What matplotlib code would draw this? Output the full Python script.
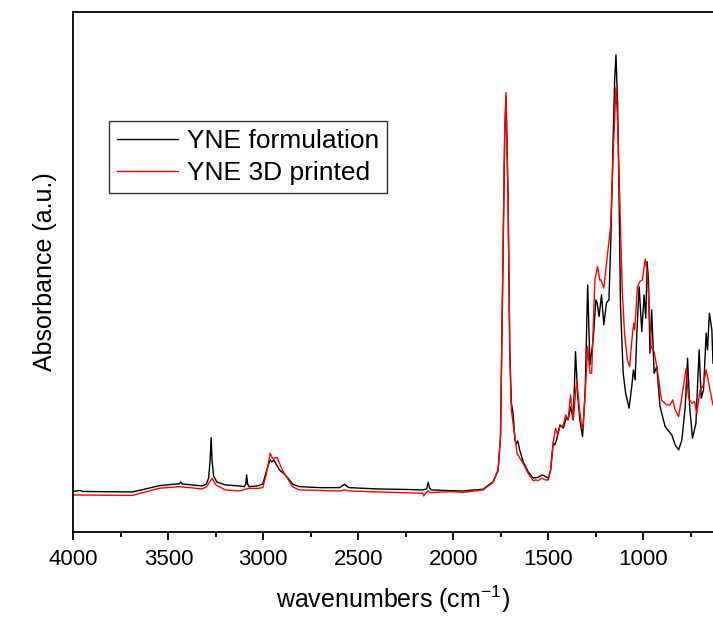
import numpy as np
import matplotlib
matplotlib.use("Agg")
import matplotlib.pyplot as plt
from matplotlib.ticker import MultipleLocator

plt.rcParams['font.family'] = ['Liberation Sans', 'DejaVu Sans']

# wavenumbers (cm-1) and absorbance (a.u.)
wn_formulation = [4000, 3966, 3950, 3690, 3620, 3548, 3442, 3435, 3428, 3322,
                  3300, 3288, 3280, 3275, 3270, 3262, 3245, 3200, 3126, 3100,
                  3092, 3088, 3083, 3075, 3030, 3003, 2985, 2964, 2955, 2945,
                  2915, 2889, 2871, 2845, 2810, 2700, 2600, 2585, 2572, 2555,
                  2547, 2400, 2250, 2161, 2140, 2132, 2125, 2115, 2018, 1950,
                  1843, 1790, 1764, 1751, 1741, 1729, 1722, 1711, 1702, 1694,
                  1685, 1675, 1668, 1660, 1650, 1632, 1606, 1579, 1553, 1530,
                  1510, 1500, 1487, 1474, 1465, 1456, 1438, 1420, 1405, 1395,
                  1382, 1368, 1356, 1345, 1333, 1319, 1305, 1292, 1280, 1263,
                  1249, 1242, 1232, 1219, 1207, 1193, 1180, 1170, 1158, 1150,
                  1143, 1134, 1126, 1119, 1105, 1092, 1074, 1060, 1051, 1042,
                  1033, 1021, 1007, 995, 986, 979, 972, 964, 955, 942,
                  928, 911, 884, 849, 831, 813, 796, 778, 766, 755,
                  740, 722, 705, 694, 682, 668, 661, 651, 638, 632]
abs_formulation = [0.405, 0.415, 0.405, 0.40, 0.43, 0.463, 0.483, 0.50, 0.48, 0.46,
                   0.48, 0.54, 0.72, 0.943, 0.72, 0.56, 0.50, 0.47, 0.46, 0.453,
                   0.48, 0.57, 0.48, 0.453, 0.46, 0.48, 0.60, 0.723, 0.70, 0.72,
                   0.62, 0.577, 0.54, 0.477, 0.453, 0.443, 0.443, 0.46, 0.477, 0.45,
                   0.443, 0.43, 0.425, 0.42, 0.43, 0.497, 0.44, 0.42, 0.413, 0.41,
                   0.427, 0.503, 0.62, 0.953, 2.29, 3.953, 4.35, 3.29, 1.79, 1.29,
                   1.187, 0.92, 0.88, 0.91, 0.82, 0.703, 0.603, 0.537, 0.547, 0.57,
                   0.55, 0.537, 0.62, 0.887, 0.87, 0.92, 1.07, 1.037, 1.14, 1.12,
                   1.253, 1.12, 1.803, 1.37, 1.12, 0.953, 1.42, 2.47, 1.67, 1.92,
                   2.32, 2.29, 2.153, 2.37, 2.07, 2.29, 2.32, 2.92, 3.92, 4.52,
                   4.77, 4.253, 3.253, 2.253, 1.587, 1.387, 1.237, 1.453, 1.62, 1.52,
                   1.987, 2.453, 2.003, 2.37, 2.137, 2.703, 2.52, 1.787, 2.22, 1.587,
                   1.653, 1.253, 1.053, 0.97, 0.87, 0.82, 0.92, 1.253, 1.737, 1.253,
                   0.937, 1.087, 1.82, 1.337, 1.42, 1.987, 1.82, 2.187, 2.02, 1.687]

wn_printed = [4000, 3690, 3620, 3548, 3442, 3322, 3300, 3270, 3250, 3200,
              3126, 3074, 3030, 3003, 2985, 2964, 2953, 2927, 2898, 2873,
              2847, 2810, 2600, 2572, 2550, 2400, 2161, 2155, 2145, 2132,
              2120, 2018, 1950, 1843, 1790, 1764, 1751, 1741, 1729, 1722,
              1711, 1702, 1694, 1685, 1664, 1650, 1632, 1606, 1579, 1565,
              1553, 1540, 1530, 1515, 1500, 1487, 1474, 1461, 1450, 1438,
              1420, 1408, 1395, 1382, 1368, 1350, 1333, 1322, 1315, 1303,
              1292, 1280, 1271, 1254, 1240, 1228, 1222, 1207, 1189, 1171,
              1158, 1143, 1134, 1122, 1110, 1098, 1083, 1071, 1059, 1050,
              1044, 1030, 1017, 1004, 989, 978, 958, 942, 928, 903,
              876, 858, 844, 831, 813, 796, 773, 761, 743, 729,
              717, 700, 686, 668, 648, 632]
abs_printed = [0.37, 0.365, 0.40, 0.437, 0.453, 0.43, 0.45, 0.537, 0.47, 0.42,
               0.41, 0.437, 0.435, 0.443, 0.57, 0.787, 0.737, 0.743, 0.61, 0.537,
               0.453, 0.42, 0.41, 0.42, 0.41, 0.40, 0.387, 0.36, 0.39, 0.41,
               0.393, 0.403, 0.395, 0.42, 0.495, 0.61, 0.94, 2.32, 4.02, 4.393,
               3.32, 1.77, 1.22, 1.09, 0.79, 0.74, 0.687, 0.587, 0.513, 0.52,
               0.513, 0.53, 0.537, 0.52, 0.52, 0.62, 0.887, 1.037, 0.97, 1.053,
               1.07, 1.17, 1.12, 1.37, 1.12, 1.52, 1.187, 1.04, 1.08, 1.453,
               1.853, 1.587, 1.587, 2.52, 2.653, 2.517, 2.52, 2.437, 2.753, 3.053,
               3.753, 4.453, 4.087, 3.253, 2.42, 1.987, 1.72, 1.653, 1.92, 2.087,
               2.02, 2.453, 2.503, 2.52, 2.727, 2.587, 1.853, 1.803, 1.653, 1.32,
               1.27, 1.27, 1.32, 1.22, 1.153, 1.353, 1.637, 1.337, 1.287, 1.303,
               1.187, 1.42, 1.453, 1.62, 1.42, 1.27]

labels = ["YNE formulation", "YNE 3D printed"]

fig = plt.figure(figsize=(7.13, 6.2), dpi=100)
ax = fig.add_axes([0.103, 0.142, 0.897, 0.839])

ax.plot(wn_formulation, abs_formulation, color="black", lw=1.0, label=labels[0])
ax.plot(wn_printed, abs_printed, color="red", lw=1.0, label=labels[1])

ax.set_xlim(4000, 632)
ax.set_ylim(0, 5.2)

#axis styling
ax.spines["right"].set_visible(False)
for s in ["left", "bottom", "top"]:
    ax.spines[s].set_linewidth(1.3)
ax.xaxis.set_major_locator(MultipleLocator(500))
ax.xaxis.set_minor_locator(MultipleLocator(250))
ax.tick_params(axis="x", which="major", direction="out", length=6, width=1.3,
               labelsize=16, pad=6, top=False)
ax.tick_params(axis="x", which="minor", direction="out", length=3.5, width=1.3, top=False)
ax.set_yticks([])

ax.set_xlabel("wavenumbers (cm$^{\\mathregular{-1}}$)", fontsize=18, labelpad=10)
ax.set_ylabel("Absorbance (a.u.)", fontsize=18, labelpad=12)

leg = ax.legend(loc="upper left", bbox_to_anchor=(0.056, 0.79), borderaxespad=0,
                fontsize=19, frameon=True, fancybox=False, handlelength=2.3,
                handletextpad=0.35, borderpad=0.3, labelspacing=0.3)
leg.get_frame().set_edgecolor("black")
leg.get_frame().set_linewidth(1.0)

fig.savefig("out.png", dpi=100)
